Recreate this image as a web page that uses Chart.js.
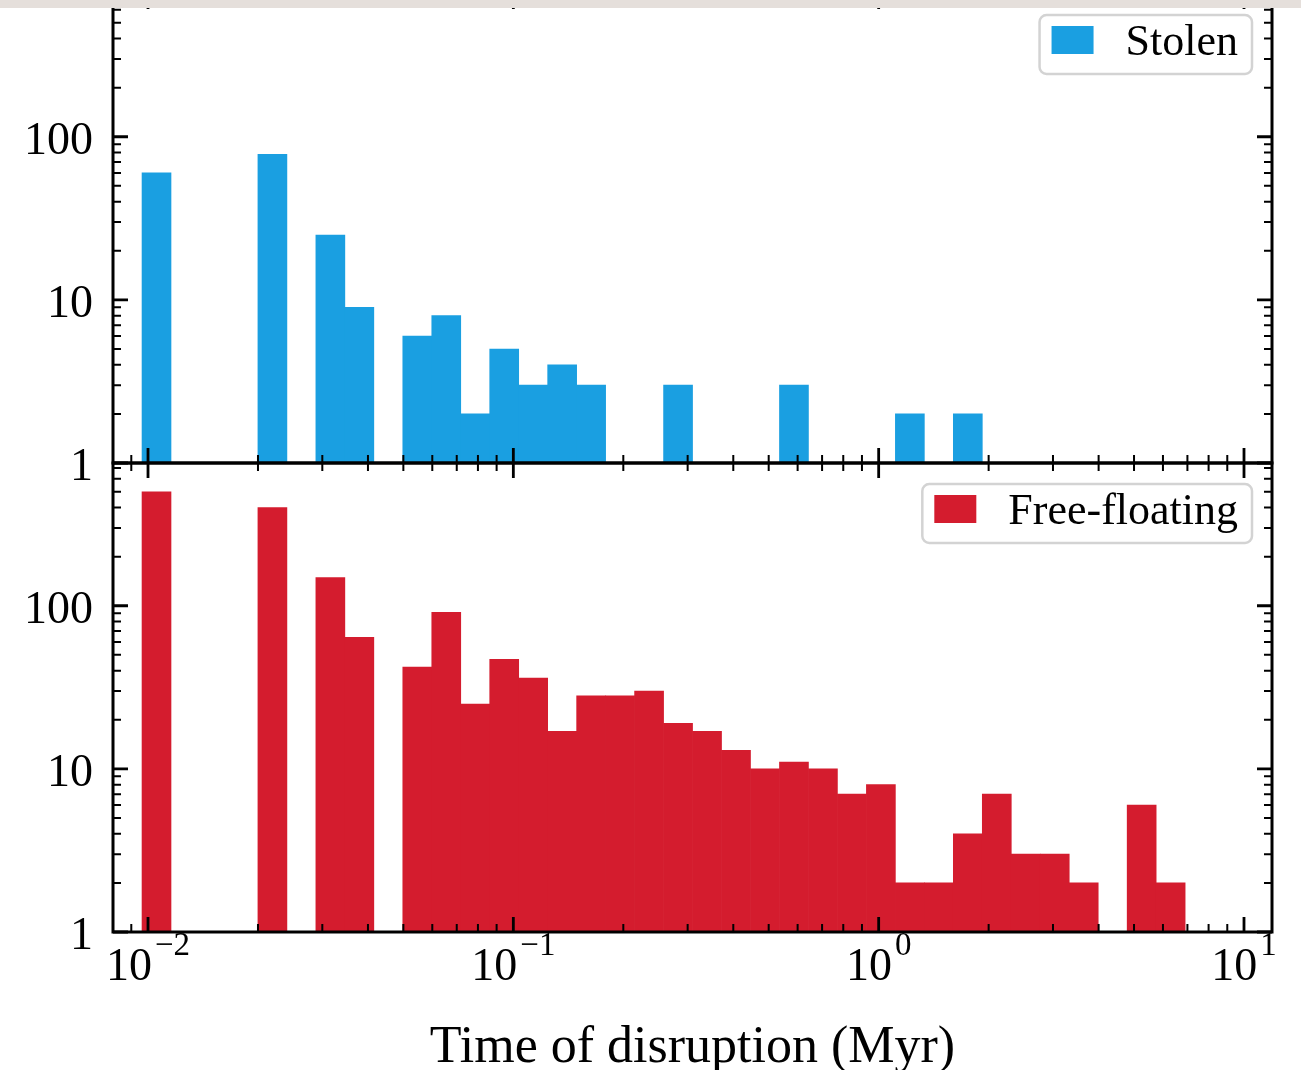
<!DOCTYPE html>
<html>
<head>
<meta charset="utf-8">
<title>Time of disruption</title>
<script src="https://cdn.jsdelivr.net/npm/chart.js@4.4.1/dist/chart.umd.min.js"></script>
<style>
  html, body { margin: 0; padding: 0; background: #fff; }
  #page { position: relative; width: 1301px; height: 1070px; overflow: hidden; background: #fff; }
  #page canvas { position: absolute; left: 0; }
  #band { position: absolute; left: 0; top: 0; width: 1301px; height: 8px; background: #e5dfdb; z-index: 5; }
</style>
</head>
<body>
<div id="page">
  <canvas id="stolenChart" width="1301" height="1110" style="top:-40px"></canvas>
  <canvas id="freeChart" width="1301" height="1070" style="top:0"></canvas>
  <div id="band"></div>
</div>
<script>
// histogram bins: 36 log-spaced bins between the first and last disruption time (Myr)
var binStart = 0.00963;
var binEnd = 6.9;
var binCount = 36;

// counts per bin, zero where the bin is empty
var stolenCounts = [60, 0, 0, 0, 78, 0, 25, 9, 0, 6, 8, 2, 5, 3, 4, 3, 0, 0,
                    3, 0, 0, 0, 3, 0, 0, 0, 2, 0, 2, 0, 0, 0, 0, 0, 0, 0];
var freeCounts = [500, 0, 0, 0, 400, 0, 149, 64, 0, 42, 91, 25, 47, 36, 17, 28, 28, 30,
                  19, 17, 13, 10, 11, 10, 7, 8, 2, 2, 4, 7, 3, 3, 2, 0, 6, 2];

// axis ranges and labelled ticks
var xRange = [0.00802, 11.93];
var yRange = [1, 750];
var xTickExponents = [-2, -1, 0, 1];
var yTickValues = [1, 10, 100];
var yTickLabels = ['1', '10', '100'];

var stolenColor = '#1a9fe1';
var freeColor = '#d41c2e';
var serif = '"Liberation Serif", "DejaVu Serif", serif';

function binCenter(i) {
  var a = Math.log10(binStart), b = Math.log10(binEnd);
  return Math.pow(10, a + (i + 0.5) * (b - a) / binCount);
}

function toPoints(counts) {
  var pts = [];
  for (var i = 0; i < counts.length; i++) {
    if (counts[i] > 0) pts.push({x: binCenter(i), y: counts[i]});
  }
  return pts;
}

// 1..9 x 10^k values inside [min, max], decades flagged as major
function logTicks(min, max) {
  var out = [];
  var k0 = Math.floor(Math.log10(min)), k1 = Math.ceil(Math.log10(max));
  for (var k = k0; k <= k1; k++) {
    for (var m = 1; m <= 9; m++) {
      var v = m * Math.pow(10, k);
      if (v >= min * 0.999999 && v <= max * 1.000001) out.push({value: v, major: m === 1});
    }
  }
  return out;
}

function drawLegend(ctx, area, text, color) {
  ctx.font = '44px ' + serif;
  var tw = ctx.measureText(text).width;
  var w = 12 + 42 + 32 + tw + 14, h = 59;
  var left = area.right - 20 - w, top = area.top + 21;
  ctx.beginPath();
  ctx.roundRect(left, top, w, h, 7);
  ctx.fillStyle = 'rgba(255,255,255,0.85)';
  ctx.fill();
  ctx.lineWidth = 2.5;
  ctx.strokeStyle = '#d3d3d3';
  ctx.stroke();
  ctx.fillStyle = color;
  ctx.fillRect(left + 12, top + 11, 42, 28);
  ctx.fillStyle = '#000';
  ctx.textAlign = 'left';
  ctx.textBaseline = 'alphabetic';
  ctx.fillText(text, left + 12 + 42 + 32, top + 40);
}

// matplotlib-like frame: black spines, inward ticks on every side, serif labels
var axisFrame = {
  id: 'axisFrame',
  afterDatasetsDraw: function(chart, args, opts) {
    var ctx = chart.ctx, area = chart.chartArea;
    var xs = chart.scales.x, ys = chart.scales.y;
    ctx.save();
    ctx.strokeStyle = '#000';
    ctx.lineCap = 'butt';

    logTicks(xs.min, xs.max).forEach(function(t) {
      var px = xs.getPixelForValue(t.value);
      var len = t.major ? 15 : 8;
      ctx.lineWidth = t.major ? 2.8 : 2;
      ctx.beginPath();
      ctx.moveTo(px, area.top);
      ctx.lineTo(px, area.top + len);
      ctx.moveTo(px, area.bottom);
      ctx.lineTo(px, area.bottom - len);
      ctx.stroke();
    });

    logTicks(ys.min, ys.max).forEach(function(t) {
      var py = ys.getPixelForValue(t.value);
      var len = t.major ? 15 : 8;
      ctx.lineWidth = t.major ? 2.8 : 2;
      ctx.beginPath();
      ctx.moveTo(area.left, py);
      ctx.lineTo(area.left + len, py);
      ctx.moveTo(area.right, py);
      ctx.lineTo(area.right - len, py);
      ctx.stroke();
    });

    ctx.lineWidth = 3;
    ctx.strokeRect(area.left, area.top, area.right - area.left, area.bottom - area.top);

    // y tick labels
    ctx.fillStyle = '#000';
    ctx.font = '46px ' + serif;
    ctx.textAlign = 'right';
    ctx.textBaseline = 'alphabetic';
    yTickValues.forEach(function(v, i) {
      ctx.fillText(yTickLabels[i], area.left - 20, ys.getPixelForValue(v) + 17);
    });

    // x tick labels as 10 with a raised exponent
    if (opts.xLabels) {
      xTickExponents.forEach(function(e) {
        var px = xs.getPixelForValue(Math.pow(10, e));
        var base = '10', sup = (e < 0 ? '\u2212' : '') + Math.abs(e);
        ctx.font = '46px ' + serif;
        var bw = ctx.measureText(base).width;
        ctx.font = '33px ' + serif;
        var sw = ctx.measureText(sup).width;
        var x0 = px - (bw + sw + 3) / 2;
        ctx.textAlign = 'left';
        ctx.font = '46px ' + serif;
        ctx.fillText(base, x0, area.bottom + 48);
        ctx.font = '33px ' + serif;
        ctx.fillText(sup, x0 + bw + 3, area.bottom + 23);
      });
    }

    if (opts.title) {
      ctx.font = '52px ' + serif;
      ctx.textAlign = 'center';
      ctx.fillText(opts.title, (area.left + area.right) / 2, area.bottom + 130);
    }

    if (opts.legend) drawLegend(ctx, area, opts.legend, opts.legendColor);
    ctx.restore();
  }
};

function histOptions(padding, frame) {
  return {
    responsive: false,
    animation: false,
    layout: {padding: padding},
    plugins: {
      legend: {display: false},
      tooltip: {enabled: false},
      axisFrame: frame
    },
    scales: {
      x: {
        type: 'logarithmic',
        min: xRange[0],
        max: xRange[1],
        offset: false,
        display: false,
        afterBuildTicks: function(scale) {
          scale.ticks = xTickExponents.map(function(e) { return {value: Math.pow(10, e)}; });
        }
      },
      y: {
        type: 'logarithmic',
        min: yRange[0],
        max: yRange[1],
        display: false,
        afterBuildTicks: function(scale) {
          scale.ticks = yTickValues.map(function(v) { return {value: v}; });
        }
      }
    }
  };
}

function histDataset(label, counts, color) {
  return {
    label: label,
    data: toPoints(counts),
    backgroundColor: color,
    borderWidth: 0,
    barPercentage: 1,
    categoryPercentage: 1
  };
}

// upper panel, its canvas starts 40px above the page so the frame top sits at -6
new Chart(document.getElementById('stolenChart'), {
  type: 'bar',
  data: {datasets: [histDataset('Stolen', stolenCounts, stolenColor)]},
  options: histOptions({left: 113, right: 29, top: 34, bottom: 607},
    {xLabels: false, legend: 'Stolen', legendColor: stolenColor}),
  plugins: [axisFrame]
});

new Chart(document.getElementById('freeChart'), {
  type: 'bar',
  data: {datasets: [histDataset('Free-floating', freeCounts, freeColor)]},
  options: histOptions({left: 113, right: 29, top: 463, bottom: 138},
    {xLabels: true, legend: 'Free-floating', legendColor: freeColor,
     title: 'Time of disruption (Myr)'}),
  plugins: [axisFrame]
});
</script>
</body>
</html>
